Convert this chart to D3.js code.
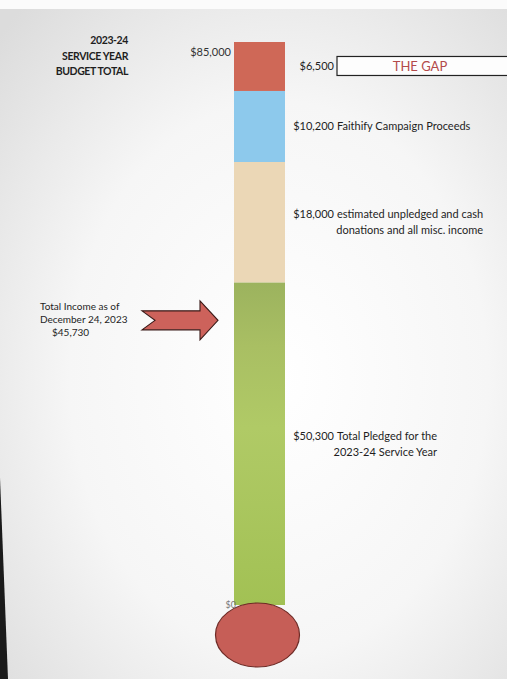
<!DOCTYPE html>
<html>
<head>
<meta charset="utf-8">
<script src="https://cdn.jsdelivr.net/npm/d3@7"></script>
<style>
  html, body { margin: 0; padding: 0; background: #fafafa; }
  svg { display: block; }
  text { font-family: Lato, "Open Sans", sans-serif; fill: #1e1e1e; }
</style>
</head>
<body>
<div id="chart"></div>
<script>
// segments, bottom to top
var segmentNames = ["Total Pledged", "Estimated", "Faithify", "The Gap"];
var segmentValues = [50300, 18000, 10200, 6500];
var segmentText = [
  ["Total Pledged for the", "2023-24 Service Year"],
  ["estimated unpledged and cash", "donations and all misc. income"],
  ["Faithify Campaign Proceeds"],
  ["THE GAP"]
];
var budgetTotal = 85000;
var incomeToDate = 45730;
var titleLines = ["2023-24", "SERVICE YEAR", "BUDGET TOTAL"];
var incomeLines = ["Total Income as of", "December 24, 2023", "$45,730"];
var tickValues = [budgetTotal, 0];

var colors = ["url(#greenFill)", "#ebd7b6", "#8dc9ec", "#cf6857"];

var W = 507, H = 679;
var fmt = d3.format("$,");

var svg = d3.select("#chart").append("svg")
  .attr("width", W).attr("height", H);

var defs = svg.append("defs");
var bg = defs.append("radialGradient").attr("id", "paper")
  .attr("cx", "0.55").attr("cy", "0.55").attr("r", "0.75");
bg.append("stop").attr("offset", "0%").attr("stop-color", "#ffffff");
bg.append("stop").attr("offset", "55%").attr("stop-color", "#f6f6f6");
bg.append("stop").attr("offset", "100%").attr("stop-color", "#dcdcdc");

var gr = defs.append("linearGradient").attr("id", "greenFill")
  .attr("x1", 0).attr("y1", 0).attr("x2", 0).attr("y2", 1);
gr.append("stop").attr("offset", "0%").attr("stop-color", "#9cb35e");
gr.append("stop").attr("offset", "20%").attr("stop-color", "#a9bf63");
gr.append("stop").attr("offset", "45%").attr("stop-color", "#b0ca66");
gr.append("stop").attr("offset", "100%").attr("stop-color", "#a2c154");

// paper
svg.append("rect").attr("x", 0).attr("y", 0).attr("width", W).attr("height", H).attr("fill", "#fbfbfb");
svg.append("rect").attr("x", 0).attr("y", 9).attr("width", W).attr("height", H - 9).attr("fill", "url(#paper)");
svg.append("path").attr("d", "M0,478 L8,679 L0,679 Z").attr("fill", "#1a1a1a");

// photo perspective squeezes the lower part a bit, hence the pow scale
var depth = d3.scalePow().exponent(0.95)
  .domain([0, budgetTotal]).range([42, 605]);
var y = function(v) { return depth(budgetTotal - v); };

var barX = 234, barW = 51;

var stacked = [];
var acc = 0;
segmentValues.forEach(function(v, i) {
  stacked.push({ name: segmentNames[i], value: v, y0: acc, y1: acc + v, lines: segmentText[i], color: colors[i] });
  acc += v;
});

svg.selectAll(".seg")
  .data(stacked)
  .enter().append("rect")
  .attr("class", "seg")
  .attr("x", barX)
  .attr("width", barW)
  .attr("y", function(d) { return y(d.y1); })
  .attr("height", function(d) { return y(d.y0) - y(d.y1); })
  .attr("fill", function(d) { return d.color; });

// bulb
svg.append("ellipse")
  .attr("cx", barX + barW / 2 - 2).attr("cy", y(0) + 30)
  .attr("rx", 42).attr("ry", 32)
  .attr("fill", "#c65e57").attr("stroke", "#6e2b26").attr("stroke-width", 1.2);

// axis ends
svg.append("text").attr("x", 231).attr("y", y(tickValues[0]) + 14)
  .attr("text-anchor", "end").attr("font-size", 11).style("fill", "#333")
  .text(fmt(tickValues[0]));
svg.append("text").attr("x", 236).attr("y", y(tickValues[1]) + 3)
  .attr("text-anchor", "end").attr("font-size", 9).style("fill", "#777")
  .text(fmt(tickValues[1]));

// title
svg.selectAll(".title")
  .data(titleLines)
  .enter().append("text")
  .attr("x", 128)
  .attr("y", function(d, i) { return 44 + i * 15.5; })
  .attr("text-anchor", "end")
  .attr("font-size", 10.5)
  .attr("letter-spacing", -0.4)
  .attr("font-weight", "bold")
  .text(function(d) { return d; });

// segment labels
var amtX = 334;
stacked.forEach(function(d) {
  var cy = (y(d.y0) + y(d.y1)) / 2;
  if (d.name === "The Gap") {
    svg.append("text").attr("x", amtX).attr("y", cy + 4)
      .attr("text-anchor", "end").attr("font-size", 11).text(fmt(d.value));
    svg.append("rect").attr("x", 337).attr("y", cy - 10).attr("width", 175).attr("height", 19)
      .attr("fill", "#fdfdfd").attr("stroke", "#222").attr("stroke-width", 1.2);
    svg.append("text").attr("x", 420).attr("y", cy + 4.5)
      .attr("text-anchor", "middle").attr("font-size", 13).style("fill", "#b34a4a")
      .text(d.lines[0]);
    return;
  }
  var top = cy - (d.lines.length - 1) * 8 + 4;
  svg.append("text").attr("x", amtX).attr("y", top)
    .attr("text-anchor", "end").attr("font-size", 11).text(fmt(d.value));
  var first = svg.append("text").attr("x", amtX + 3).attr("y", top)
    .attr("font-size", 11).text(d.lines[0]);
  var endX = amtX + 3 + first.node().getComputedTextLength();
  d.lines.slice(1).forEach(function(l, j) {
    svg.append("text").attr("x", endX).attr("y", top + 16 * (j + 1))
      .attr("text-anchor", "end").attr("font-size", 11).text(l);
  });
});

// income arrow
var ay = y(incomeToDate) + 8, ax = 180;
var arrowPts = [[-38, -9.5], [20, -9.5], [20, -19.5], [38, 0], [20, 19.5], [20, 9.5], [-38, 9.5], [-25, 0]];
svg.append("path")
  .attr("d", d3.line()(arrowPts.map(function(p) { return [ax + p[0], ay + p[1]]; })) + "Z")
  .attr("fill", "#cd625b").attr("stroke", "#3a1a18").attr("stroke-width", 1.1);

svg.selectAll(".income")
  .data(incomeLines)
  .enter().append("text")
  .attr("x", function(d, i) { return i === 2 ? 52 : 40; })
  .attr("y", function(d, i) { return ay - 10 + i * 13; })
  .attr("font-size", 10)
  .text(function(d) { return d; });
</script>
</body>
</html>
